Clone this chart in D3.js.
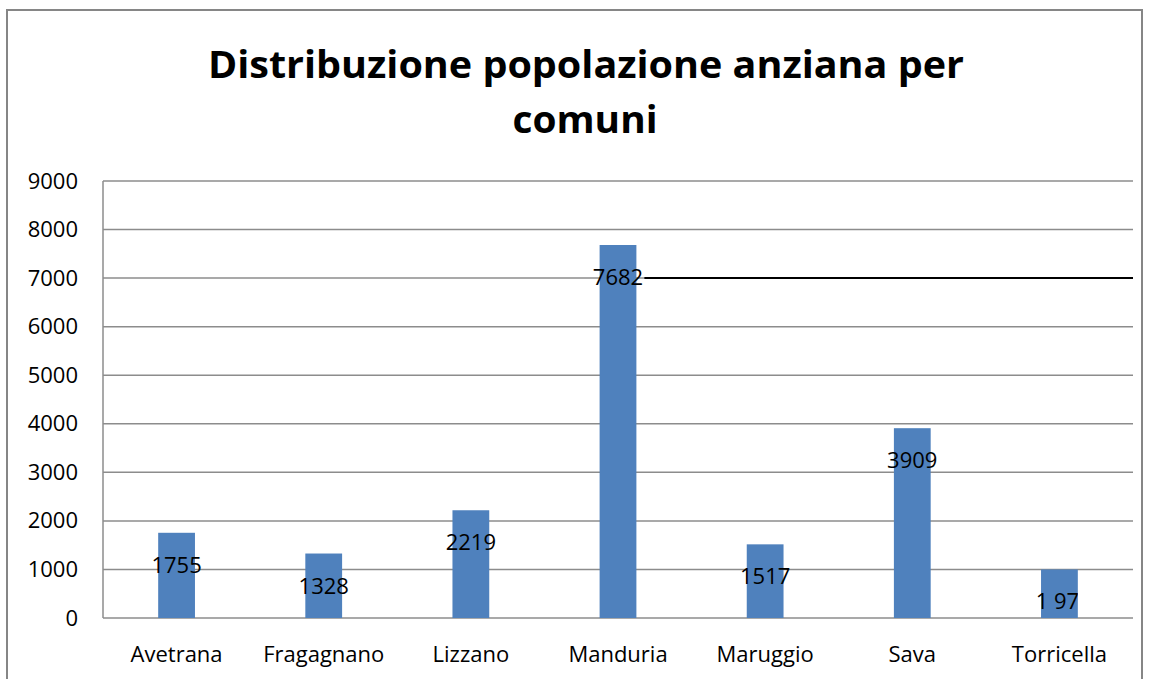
<!DOCTYPE html>
<html>
<head>
<meta charset="utf-8">
<script src="https://cdn.jsdelivr.net/npm/d3@7"></script>
<style>
  body { margin: 0; background: #fff; }
  text { font-family: "Open Sans", "Liberation Sans", Arial, sans-serif; }
</style>
</head>
<body>
<div id="chart"></div>
<script>
var comuni = ["Avetrana", "Fragagnano", "Lizzano", "Manduria", "Maruggio", "Sava", "Torricella"];
var anziani = [1755, 1328, 2219, 7682, 1517, 3909, 1000];
// data labels as they show in the picture (last one is partly hidden)
var etichette = ["1755", "1328", "2219", "7682", "1517", "3909", "1 97"];
var yTicks = [0, 1000, 2000, 3000, 4000, 5000, 6000, 7000, 8000, 9000];
var titolo = ["Distribuzione popolazione anziana per", "comuni"];

var width = 1151
var height = 679
var fontFam = "Open Sans, Liberation Sans, Arial, sans-serif";

var svg = d3.select("#chart")
    .append("svg")
    .attr("width", width)
    .attr("height", height);

// outer chart border
svg.append("rect")
    .attr("x", 7)
    .attr("y", 10)
    .attr("width", 1135)
    .attr("height", 700)
    .attr("fill", "none")
    .attr("stroke", "#868686")
    .attr("stroke-width", 2);

var plot = { left: 103, right: 1133, top: 181, bottom: 618 };

var x = d3.scaleBand()
    .domain(comuni)
    .range([plot.left, plot.right])
    .paddingInner(0.75)
    .paddingOuter(0.375);

var y = d3.scaleLinear()
    .domain([0, 9000])
    .range([plot.bottom, plot.top]);

// title
svg.append("text")
    .attr("x", 586)
    .attr("y", 78)
    .attr("text-anchor", "middle")
    .attr("font-size", 38)
    .attr("font-weight", "bold")
    .attr("textLength", 756)
    .attr("lengthAdjust", "spacingAndGlyphs")
    .text(titolo[0]);

svg.append("text")
    .attr("x", 585)
    .attr("y", 133)
    .attr("text-anchor", "middle")
    .attr("font-size", 38)
    .attr("font-weight", "bold")
    .attr("textLength", 145)
    .attr("lengthAdjust", "spacingAndGlyphs")
    .text(titolo[1]);

// gridlines
svg.append("g")
    .selectAll("line")
    .data(yTicks)
    .enter()
    .append("line")
    .attr("x1", plot.left)
    .attr("x2", plot.right)
    .attr("y1", function(d) { return y(d); })
    .attr("y2", function(d) { return y(d); })
    .attr("stroke", "#8c8c8c")
    .attr("stroke-width", 1.5);

// y axis line
svg.append("line")
    .attr("x1", plot.left)
    .attr("x2", plot.left)
    .attr("y1", plot.top)
    .attr("y2", plot.bottom)
    .attr("stroke", "#8c8c8c")
    .attr("stroke-width", 1.5);

// y tick labels
var yAxis = svg.append("g")
    .attr("transform", "translate(" + (plot.left - 25) + ",0)")
    .call(d3.axisLeft(y).tickValues(yTicks).tickFormat(d3.format("d")).tickSize(0).tickPadding(0));
yAxis.select(".domain").remove();
yAxis.selectAll("text")
    .attr("font-size", 22)
    .attr("font-family", fontFam)
    .attr("fill", "#000");

// x labels
var xAxis = svg.append("g")
    .attr("transform", "translate(0," + plot.bottom + ")")
    .call(d3.axisBottom(x).tickSize(0).tickPadding(0));
xAxis.select(".domain").remove();
xAxis.selectAll("text")
    .attr("dy", null)
    .attr("y", 44)
    .attr("font-size", 22)
    .attr("font-family", fontFam)
    .attr("fill", "#000");

// bars
svg.append("g")
    .selectAll("rect")
    .data(anziani)
    .enter()
    .append("rect")
    .attr("x", function(d, i) { return x(comuni[i]); })
    .attr("y", function(d) { return y(d); })
    .attr("width", x.bandwidth())
    .attr("height", function(d) { return y(0) - y(d); })
    .attr("fill", "#4f81bd");

// clip for the last (partly hidden) label
var last = comuni.length - 1;
svg.append("clipPath")
    .attr("id", "clipLast")
    .append("rect")
    .attr("x", 0)
    .attr("y", 0)
    .attr("width", x(comuni[last]) + x.bandwidth())
    .attr("height", height);

// data labels
svg.append("g")
    .selectAll("text")
    .data(anziani)
    .enter()
    .append("text")
    .attr("x", function(d, i) { return x(comuni[i]) + x.bandwidth() / 2 + (i == last ? -2 : 0); })
    .attr("y", function(d) { return y(d) + 40; })
    .attr("text-anchor", "middle")
    .attr("font-size", 22)
    .attr("clip-path", function(d, i) { return i == last ? "url(#clipLast)" : null; })
    .text(function(d, i) { return etichette[i]; });

// black line at 7000 right of Manduria label
svg.append("line")
    .attr("x1", x("Manduria") + x.bandwidth() + 8)
    .attr("x2", plot.right)
    .attr("y1", y(7000))
    .attr("y2", y(7000))
    .attr("stroke", "#000")
    .attr("stroke-width", 2);
</script>
</body>
</html>
